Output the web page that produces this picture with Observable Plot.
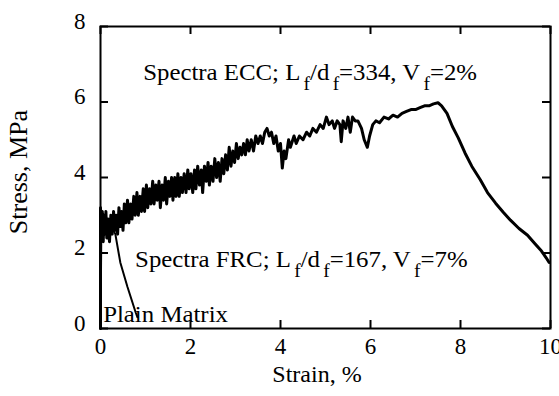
<!DOCTYPE html>
<html>
<head>
<meta charset="utf-8">
<script src="https://cdn.jsdelivr.net/npm/d3@7"></script>
<script src="https://cdn.jsdelivr.net/npm/@observablehq/plot@0.6"></script>
<style>
  html, body { margin: 0; padding: 0; background: white; }
  #chart svg { display: block; }
</style>
</head>
<body>
<div id="chart"></div>
<script>
// Spectra ECC stress-strain curve
const eccStrain = [0,0,0.02,0.04,0.06,0.08,0.10,0.12,0.14,0.17,0.20,0.23,0.26,0.29,0.32,0.35,0.38,0.41,0.44,0.47,0.50,0.53,0.56,0.60,0.63,0.67,0.70,0.74,0.77,0.81,0.84,0.88,0.91,0.95,0.98,1.02,1.05,1.09,1.12,1.16,1.19,1.23,1.26,1.30,1.33,1.37,1.40,1.44,1.47,1.51,1.54,1.58,1.61,1.65,1.68,1.72,1.75,1.79,1.82,1.86,1.90,1.94,1.97,2.01,2.05,2.09,2.12,2.16,2.20,2.24,2.27,2.31,2.35,2.39,2.42,2.46,2.50,2.54,2.58,2.62,2.66,2.70,2.74,2.78,2.82,2.86,2.90,2.94,2.98,3.02,3.06,3.10,3.14,3.18,3.22,3.26,3.30,3.35,3.40,3.45,3.50,3.55,3.60,3.65,3.70,3.75,3.80,3.85,3.90,3.95,4.00,4.04,4.08,4.12,4.18,4.22,4.30,4.35,4.42,4.50,4.58,4.65,4.72,4.80,4.88,4.95,5.02,5.08,5.15,5.20,5.26,5.32,5.35,5.39,5.45,5.50,5.55,5.60,5.66,5.72,5.80,5.86,5.93,5.98,6.05,6.12,6.20,6.30,6.40,6.50,6.60,6.70,6.80,6.90,7.00,7.10,7.20,7.30,7.40,7.50,7.58,7.70,7.82,7.95,8.10,8.25,8.44,8.60,8.78,8.95,9.11,9.30,9.49,9.65,9.80,9.90,9.97];
const eccStress = [0,3.2,2.4,3.1,2.3,3.0,2.5,3.1,2.4,2.9,2.3,3.0,2.5,3.1,2.6,3.0,2.5,3.2,2.7,3.1,2.6,3.3,2.8,3.4,2.8,3.3,2.9,3.5,3.0,3.6,3.0,3.5,3.1,3.7,3.1,3.8,3.2,3.7,3.3,3.9,3.3,3.8,3.4,3.9,3.2,3.8,3.4,4.0,3.3,3.9,3.5,4.0,3.4,4.0,3.5,4.1,3.5,4.0,3.6,4.1,3.6,4.2,3.7,4.1,3.6,4.2,3.7,4.3,3.8,4.2,3.6,4.3,3.9,4.4,3.8,4.3,3.9,4.5,4.0,4.4,3.9,4.5,4.1,4.6,4.2,4.8,4.3,4.7,4.4,4.9,4.5,4.8,4.6,4.9,4.6,5.0,4.7,5.0,4.7,5.1,4.9,5.1,4.9,5.2,5.3,5.1,5.2,4.9,5.1,4.7,4.9,4.25,4.7,4.5,5.0,4.8,5.1,4.9,5.1,5.0,5.2,5.1,5.3,5.2,5.4,5.3,5.6,5.4,5.5,5.3,5.5,5.4,4.95,5.5,5.3,5.6,5.2,5.6,5.5,5.5,5.3,5.0,4.8,5.1,5.4,5.5,5.45,5.6,5.55,5.65,5.6,5.7,5.75,5.8,5.8,5.85,5.9,5.9,5.95,5.98,5.9,5.7,5.35,5.05,4.65,4.3,3.94,3.6,3.32,3.08,2.87,2.65,2.47,2.25,2.05,1.88,1.75];
// Plain matrix curve
const plainStrain = [0,0.02,0.15,0.25,0.33,0.44,0.60,0.78,0.82];
const plainStress = [0,2.8,2.75,2.7,2.5,1.75,1.1,0.43,0.3];
// Axis ticks
const xTicks = [0,2,4,6,8,10];
const yTicks = [0,2,4,6,8];
const xLabel = "Strain, %";
const yLabel = "Stress, MPa";

const ecc = eccStrain.map((s,i) => ({strain: s, stress: eccStress[i]}));
const plain = plainStrain.map((s,i) => ({strain: s, stress: plainStress[i]}));

const W = 559, H = 396, mL = 100, mR = 9, mT = 26, mB = 68;
const pw = W - mL - mR, ph = H - mT - mB;
const tk = 8;
const FONT = "'Liberation Serif', 'Times New Roman', serif";

const plot = Plot.plot({
  width: W, height: H,
  marginLeft: mL, marginRight: mR, marginTop: mT, marginBottom: mB,
  style: "font-family: 'Liberation Serif', 'Times New Roman', serif; font-size: 22px; background: white; color: black;",
  x: {domain: [0, 10]},
  y: {domain: [0, 8]},
  marks: [
    Plot.axisX({ticks: xTicks, tickSize: 0, tickPadding: 9, label: null, fontSize: 23}),
    Plot.axisY({ticks: yTicks, tickSize: 0, tickPadding: 15, dy: -5, label: null, fontSize: 23}),
    Plot.tickX(xTicks, {x: d => d, insetTop: ph - tk, strokeWidth: 2}),
    Plot.tickX(xTicks, {x: d => d, insetBottom: ph - tk, strokeWidth: 2}),
    Plot.tickY(yTicks, {y: d => d, insetRight: pw - tk, strokeWidth: 2}),
    Plot.tickY(yTicks, {y: d => d, insetLeft: pw - tk, strokeWidth: 2}),
    Plot.line(plain, {x: "strain", y: "stress", stroke: "black", strokeWidth: 2}),
    Plot.line(ecc, {x: "strain", y: "stress", stroke: "black", strokeWidth: 3, strokeLinejoin: "round"}),
    Plot.frame({stroke: "black", strokeWidth: 2})
  ]
});

document.getElementById("chart").appendChild(plot);

const sx = plot.scale("x"), sy = plot.scale("y");
const svg = d3.select(plot);

// Axis titles
svg.append("text")
  .attr("x", sx.apply(5) - 8).attr("y", sy.apply(0) + 54)
  .attr("text-anchor", "middle").attr("font-size", 24).attr("fill", "black")
  .text(xLabel);
svg.append("text")
  .attr("transform", `translate(${sx.apply(0) - 73},${sy.apply(4) - 5}) rotate(-90)`)
  .attr("text-anchor", "middle").attr("font-size", 26).attr("fill", "black")
  .text(yLabel);

// Annotations with subscripts
function annot(xv, yv, parts) {
  const t = svg.append("text")
    .attr("transform", `translate(${sx.apply(xv)},${sy.apply(yv)}) scale(1.08,1)`)
    .attr("text-anchor", "start")
    .attr("font-size", 23).attr("fill", "black");
  let sub = false;
  parts.forEach(p => {
    if (p.sub) {
      t.append("tspan").attr("dy", 10).attr("dx", 3).attr("font-size", 18).text(p.sub);
      sub = true;
    } else {
      const ts = t.append("tspan").text(p.t);
      if (sub) { ts.attr("dy", -10); sub = false; }
    }
  });
}
annot(0.96, 6.57, [{t: "Spectra ECC; L"}, {sub: "f"}, {t: "/d"}, {sub: "f"}, {t: "=334, V"}, {sub: "f"}, {t: "=2%"}]);
annot(0.78, 1.62, [{t: "Spectra FRC; L"}, {sub: "f"}, {t: "/d"}, {sub: "f"}, {t: "=167, V"}, {sub: "f"}, {t: "=7%"}]);
annot(0.07, 0.16, [{t: "Plain Matrix"}]);

// Force serif font on every text
svg.selectAll("text").attr("font-family", FONT).style("font-family", FONT);
</script>
</body>
</html>
